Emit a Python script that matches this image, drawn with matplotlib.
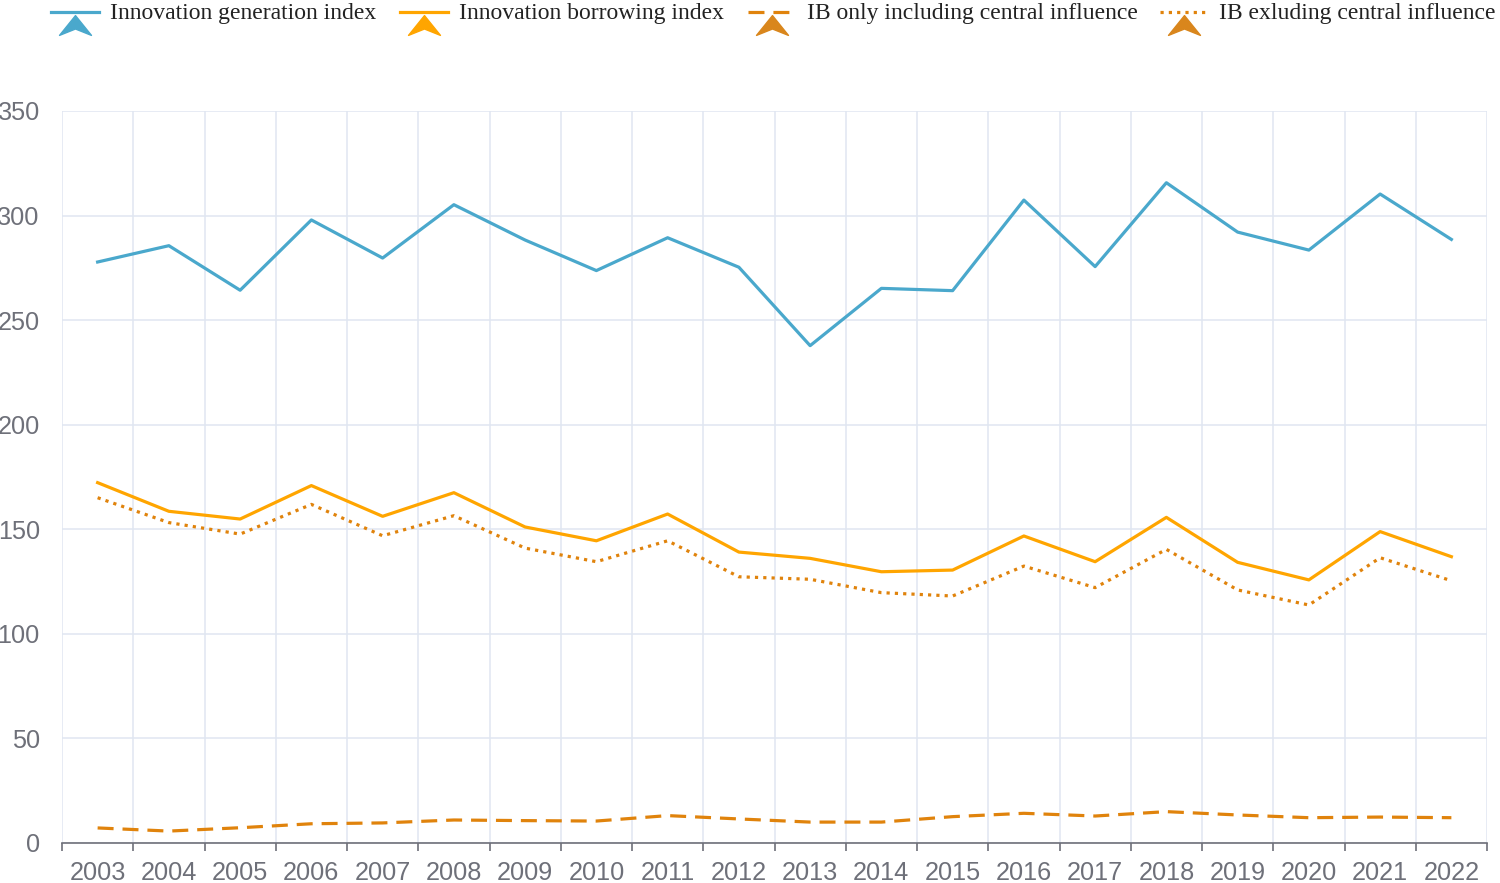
import matplotlib.pyplot as plt
from matplotlib.path import Path
import numpy as np

years = [str(y) for y in range(2003, 2023)]

# Innovation generation index
gen_index = [277.8, 285.6, 264.3, 297.9, 279.7, 305.2, 288.3, 273.7, 289.4, 275.3,
             237.8, 265.2, 264.1, 307.4, 275.6, 315.7, 292.1, 283.5, 310.3, 288.6]
# Innovation borrowing index
borrow_index = [172.3, 158.6, 154.9, 170.9, 156.2, 167.5, 151.1, 144.5, 157.3, 139.1,
                136.1, 129.7, 130.5, 146.8, 134.5, 155.7, 134.2, 125.8, 148.9, 136.9]
# IB only including central influence
ib_central = [7.2, 5.7, 7.3, 9.2, 9.6, 11.0, 10.7, 10.5, 13.1, 11.5,
              10.0, 10.0, 12.6, 14.2, 12.9, 15.0, 13.4, 12.1, 12.4, 12.1]
# IB exluding central influence
ib_excl = [165.1, 153.2, 147.7, 161.9, 146.9, 156.5, 141.0, 134.5, 144.5, 127.3,
           126.1, 119.7, 118.1, 132.4, 122.1, 140.4, 121.0, 113.8, 136.4, 125.4]

labels = ['Innovation generation index', 'Innovation borrowing index',
          'IB only including central influence', 'IB exluding central influence']

BLUE = '#4aa8cc'
ORANGE = '#ffa500'
DARK = '#e0830c'
GRID = '#e0e6f1'
AXIS = '#6e7079'

fig = plt.figure(figsize=(15, 8.83), dpi=100)
ax = fig.add_axes([62 / 1500, 40 / 883, 1425 / 1500, 732 / 883])

x = np.arange(len(years))
lw = 2.3
ax.plot(x, gen_index, color=BLUE, lw=lw, solid_joinstyle='round', zorder=3)
ax.plot(x, borrow_index, color=ORANGE, lw=lw, solid_joinstyle='round', zorder=3)
ax.plot(x, ib_central, color=DARK, lw=lw, dashes=(5, 2.8), zorder=3)
ax.plot(x, ib_excl, color=DARK, lw=lw, dashes=(1, 1.6), zorder=3)

ax.set_xlim(-0.5, len(years) - 0.5)
ax.set_ylim(0, 350)
ax.set_yticks(range(0, 351, 50))
ax.set_xticks(np.arange(-0.5, len(years)))
ax.set_xticklabels([])
ax.set_xticks(x, minor=True)
ax.set_xticklabels(years, minor=True)

for s in ['top', 'right', 'left']:
    ax.spines[s].set_visible(False)
ax.spines['bottom'].set_color(AXIS)
ax.spines['bottom'].set_linewidth(1.2)
ax.grid(True, which='major', color=GRID, lw=1.1, zorder=0)
ax.set_axisbelow(True)
ax.tick_params(axis='x', which='major', length=6, width=1.2, color=AXIS)
ax.tick_params(axis='x', which='minor', length=0, pad=13, labelsize=18.2,
               labelcolor=AXIS)
ax.tick_params(axis='y', length=0, pad=16, labelsize=18.2, labelcolor=AXIS)
for t in ax.get_xticklabels(minor=True) + ax.get_yticklabels():
    t.set_family('Liberation Sans')

# legend drawn in pixel coordinates
lg = fig.add_axes([0, 0, 1, 1])
lg.set_xlim(0, 1500)
lg.set_ylim(883, 0)
lg.axis('off')
arrow = Path([(0, 0.62), (1, -0.62), (0, -0.22), (-1, -0.62), (0, 0.62)],
             [Path.MOVETO, Path.LINETO, Path.LINETO, Path.LINETO, Path.CLOSEPOLY])
items = [
    (51, BLUE, BLUE, {}),
    (400, ORANGE, ORANGE, {}),
    (748, DARK, '#d9861c', {'dashes': (5, 2.8)}),
    (1160, DARK, '#d9861c', {'dashes': (1, 1.6)}),
]
for (x0, col, mcol, style), lab in zip(items, labels):
    lg.plot([x0, x0 + 48], [12, 12], color=col, lw=lw, **style)
    lg.plot([x0 + 24], [25], marker=arrow, ms=23, color=mcol, mec=mcol, ls='none')
    lg.text(x0 + 59, 13, lab, family='Liberation Serif', fontsize=17,
            color='#222222', va='center', ha='left')

fig.savefig('out.png', dpi=100)
